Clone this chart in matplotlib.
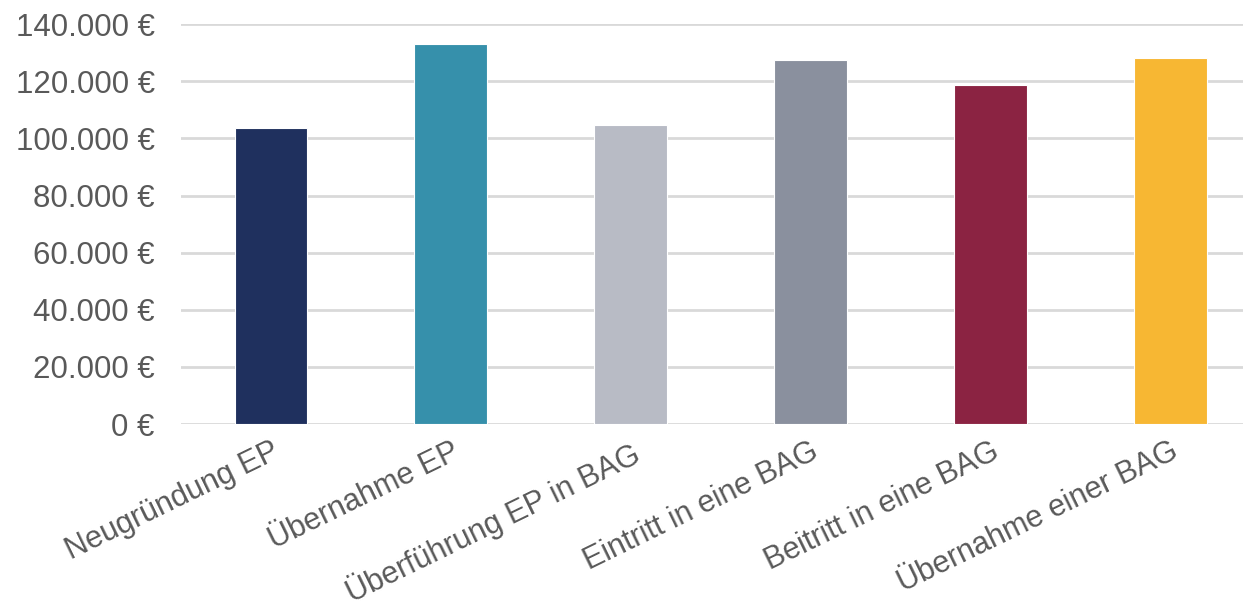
import matplotlib.pyplot as plt
from matplotlib.ticker import FuncFormatter

categories = ['Neugründung EP', 'Übernahme EP', 'Überführung EP in BAG',
              'Eintritt in eine BAG', 'Beitritt in eine BAG', 'Übernahme einer BAG']
values = [103500, 133000, 104800, 127600, 118700, 128100]
colors = ['#1F305E', '#3690AB', '#B8BBC5', '#8A909E', '#8B2342', '#F7B733']
y_ticks = [0, 20000, 40000, 60000, 80000, 100000, 120000, 140000]

plt.rcParams['font.family'] = ['Liberation Sans', 'DejaVu Sans']

fig = plt.figure(figsize=(12.43, 6.13), dpi=100)
ax = fig.add_axes([0.1457, 0.3083, 0.868, 0.6521])

x = list(range(len(categories)))
ax.bar(x, values, width=0.405, color=colors, edgecolor='white', linewidth=0.8, zorder=3)

ax.set_xlim(-0.5, len(categories) - 0.5)
ax.set_ylim(0, 140000)
ax.set_yticks(y_ticks)
ax.yaxis.set_major_formatter(FuncFormatter(lambda v, p: f'{int(v):,} €'.replace(',', '.')))
ax.grid(axis='y', color='#D9D9D9', linewidth=2, zorder=0)
ax.set_axisbelow(True)

for s in ax.spines.values():
    s.set_visible(False)

ax.tick_params(axis='y', length=0, pad=19, labelsize=22.5, labelcolor='#595959')
ax.tick_params(axis='x', length=0, pad=9, labelsize=22, labelcolor='#595959')
ax.set_xticks(x)
ax.set_xticklabels(categories, rotation=26, ha='right', va='top', rotation_mode='anchor')

fig.savefig('out.png', dpi=100)
